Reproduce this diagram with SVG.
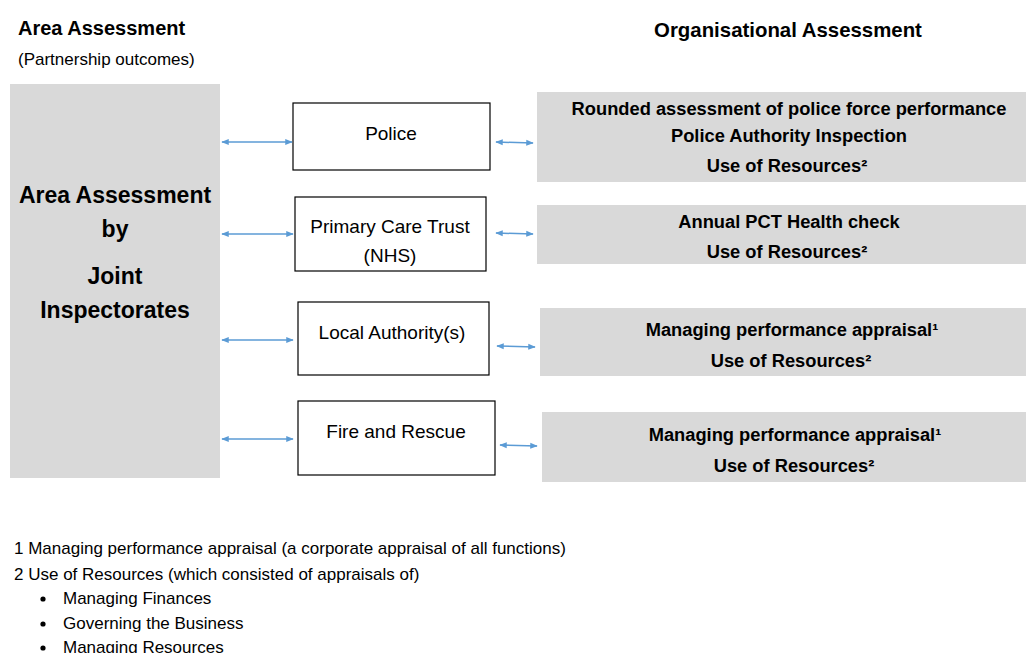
<svg xmlns="http://www.w3.org/2000/svg" width="1026" height="653" viewBox="0 0 1026 653">
<defs>
<marker id="ah" viewBox="0 0 10 10" refX="9" refY="5" markerWidth="5" markerHeight="5" orient="auto-start-reverse" markerUnits="strokeWidth">
<path d="M0,1 L10,5 L0,9 z" fill="#5B9BD5"/>
</marker>
<style>
.t{font-family:"Liberation Sans",Arial,sans-serif;fill:#000}
.b{font-weight:bold}
.grey{fill:#D9D9D9}
.box{fill:#fff;stroke:#000;stroke-width:1.2}
.c{stroke:#5B9BD5;stroke-width:1.5;fill:none;marker-start:url(#ah);marker-end:url(#ah)}
.n{font-size:19px;text-anchor:middle}
.r{font-size:18.3px;text-anchor:middle;font-weight:bold}
.f{font-size:17px}
.L{font-size:23px;text-anchor:middle;font-weight:bold}
</style>
</defs>
<rect width="1026" height="653" fill="#fff"/>
<text class="t b" x="18" y="35" font-size="20">Area Assessment</text>
<text class="t" x="18" y="65" font-size="17">(Partnership outcomes)</text>
<text class="t b" x="788" y="37" font-size="20.4" text-anchor="middle">Organisational Assessment</text>

<g id="area">
<rect class="grey" x="10" y="84" width="210" height="394"/>
<text class="t L" x="115" y="203">Area Assessment</text>
<text class="t L" x="115" y="237">by</text>
<text class="t L" x="115" y="284">Joint</text>
<text class="t L" x="115" y="318">Inspectorates</text>
</g>

<g id="police">
<rect class="box" x="293" y="103" width="197" height="67"/>
<text class="t n" x="391" y="140">Police</text>
</g>
<g id="pct">
<rect class="box" x="295" y="197" width="191" height="74"/>
<text class="t n" x="390" y="233">Primary Care Trust</text>
<text class="t n" x="390" y="262">(NHS)</text>
</g>
<g id="la">
<rect class="box" x="298" y="302" width="191" height="73"/>
<text class="t n" x="392" y="339">Local Authority(s)</text>
</g>
<g id="fire">
<rect class="box" x="298" y="401" width="197" height="74"/>
<text class="t n" x="396" y="438">Fire and Rescue</text>
</g>

<g id="org-police">
<rect class="grey" x="537" y="92" width="489" height="90"/>
<text class="t r" x="789" y="115">Rounded assessment of police force performance</text>
<text class="t r" x="789" y="142">Police Authority Inspection</text>
<text class="t r" x="787" y="172">Use of Resources²</text>
</g>
<g id="org-pct">
<rect class="grey" x="537" y="205" width="489" height="59"/>
<text class="t r" x="789" y="228">Annual PCT Health check</text>
<text class="t r" x="787" y="258">Use of Resources²</text>
</g>
<g id="org-la">
<rect class="grey" x="540" y="308" width="486" height="68"/>
<text class="t r" x="792" y="336">Managing performance appraisal¹</text>
<text class="t r" x="791" y="367">Use of Resources²</text>
</g>
<g id="org-fire">
<rect class="grey" x="542" y="412" width="484" height="70"/>
<text class="t r" x="795" y="441">Managing performance appraisal¹</text>
<text class="t r" x="794" y="472">Use of Resources²</text>
</g>

<g id="connectors">
<line class="c" x1="222" y1="142" x2="292" y2="142"/>
<line class="c" x1="222" y1="234" x2="293" y2="234"/>
<line class="c" x1="222" y1="340" x2="293" y2="340"/>
<line class="c" x1="222" y1="439" x2="293" y2="439"/>
<line class="c" x1="496" y1="142" x2="533" y2="143"/>
<line class="c" x1="496" y1="233" x2="533" y2="234"/>
<line class="c" x1="497" y1="346" x2="535" y2="347"/>
<line class="c" x1="500" y1="445" x2="537" y2="446"/>
</g>

<g id="footnotes">
<text class="t f" x="14" y="554">1 Managing performance appraisal (a corporate appraisal of all functions)</text>
<text class="t f" x="14" y="580">2 Use of Resources (which consisted of appraisals of)</text>
<circle cx="43" cy="599" r="2.6" fill="#000"/>
<text class="t f" x="63" y="604">Managing Finances</text>
<circle cx="43" cy="624" r="2.6" fill="#000"/>
<text class="t f" x="63" y="629">Governing the Business</text>
<circle cx="43" cy="648" r="2.6" fill="#000"/>
<text class="t f" x="63" y="653">Managing Resources</text>
</g>
</svg>
